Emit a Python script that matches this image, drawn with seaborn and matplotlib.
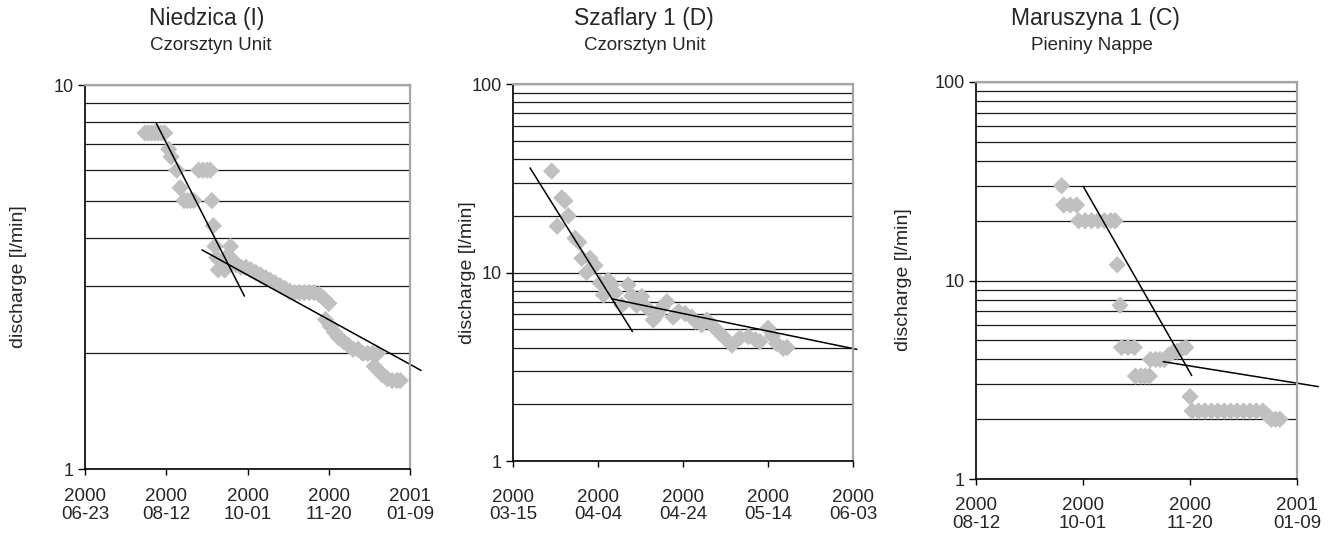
import numpy as np
import pandas as pd
import matplotlib
matplotlib.use("Agg")
import matplotlib.pyplot as plt
import matplotlib.dates as mdates
from matplotlib.ticker import FixedLocator, NullFormatter
import seaborn as sns

sns.set_theme(style="white")
plt.rcParams['font.family'] = ['Liberation Sans', 'DejaVu Sans']

# ---------------- data ----------------
titles = ["Niedzica (I)", "Szaflary 1 (D)", "Maruszyna 1 (C)"]
subtitles = ["Czorsztyn Unit", "Czorsztyn Unit", "Pieniny Nappe"]
ylabel = "discharge [l/min]"

# panel 1: day offset from 2000-06-23
p1_start = "2000-06-23"
p1_ticks = ["2000-06-23", "2000-08-12", "2000-10-01", "2000-11-20", "2001-01-09"]
p1_days = [37, 39, 41, 43, 45, 47, 49, 51.5, 53, 56.5, 58.5, 61, 63, 65, 67,
           70, 72.5, 75, 77, 78, 79, 80, 81, 82, 84, 86, 88, 89.5, 91, 93,
           96, 99, 102, 105, 108, 111, 114, 117, 120, 123, 126, 129, 132, 135,
           138, 141, 144, 147, 150, 148, 151, 153.5, 156, 159, 162, 165, 168,
           171, 174, 177, 180, 178, 181, 183, 186, 189, 192, 194]
p1_vals = [7.5, 7.5, 7.5, 7.5, 7.5, 7.5, 7.5, 6.8, 6.5, 6.0, 5.4, 5.0, 5.0, 5.0, 5.0,
           6.0, 6.0, 6.0, 6.0, 5.0, 4.3, 3.8, 3.55, 3.3, 3.45, 3.3, 3.6, 3.8, 3.5, 3.4,
           3.35, 3.35, 3.3, 3.25, 3.2, 3.15, 3.1, 3.05, 3.0, 2.95, 2.9, 2.88, 2.88, 2.88,
           2.88, 2.88, 2.85, 2.78, 2.7, 2.45, 2.35, 2.27, 2.2, 2.15, 2.1, 2.05, 2.05,
           2.0, 2.0, 2.0, 2.0, 1.85, 1.8, 1.76, 1.72, 1.7, 1.7, 1.7]
p1_trend1_days = [43.8, 98.1]
p1_trend1_vals = [7.96, 2.82]
p1_trend2_days = [72, 206.8]
p1_trend2_vals = [3.72, 1.806]

# panel 2: day offset from 2000-03-15
p2_start = "2000-03-15"
p2_ticks = ["2000-03-15", "2000-04-04", "2000-04-24", "2000-05-14", "2000-06-03"]
p2_days = [9.1, 10.4, 11.5, 12.2, 13, 14.6, 15.5, 16.2, 17.3, 18.1, 19.3, 20.5, 21.3,
           22.4, 23.2, 24, 25.6, 27.1, 28, 29.1, 30.3, 31.5, 33, 34, 35, 36.2, 37.7,
           39, 40.5, 42, 43, 44.4, 45.6, 47, 48.5, 49.5, 51.5, 53.4, 55.4, 57, 58.1,
           60, 61, 62, 63.6, 64.5]
p2_vals = [34.5, 17.6, 24.9, 24.0, 20.0, 15.2, 14.5, 11.9, 10.0, 11.9, 10.9, 8.8, 7.6,
           9.1, 8.6, 7.8, 6.7, 8.6, 7.5, 6.7, 7.45, 6.5, 5.6, 6.0, 6.5, 7.0, 5.8,
           6.2, 6.06, 5.8, 5.5, 5.27, 5.6, 5.2, 4.8, 4.57, 4.12, 4.5, 4.57, 4.4, 4.3,
           5.06, 4.6, 4.2, 3.96, 4.0]
p2_trend1_days = [4.0, 28.1]
p2_trend1_vals = [35.9, 4.86]
p2_trend2_days = [23.2, 80.9]
p2_trend2_vals = [7.25, 3.91]

# panel 3: day offset from 2000-08-12
p3_start = "2000-08-12"
p3_ticks = ["2000-08-12", "2000-10-01", "2000-11-20", "2001-01-09"]
p3_days = [40, 41, 44, 47, 48, 51, 54, 57, 60, 63, 65, 66, 67.3, 68, 71, 74,
           74.5, 77, 79, 81, 81.5, 84, 86, 88, 90, 92, 94, 96, 98, 100,
           101, 104, 107, 110, 113, 116, 119, 122, 125, 128, 131, 134, 136,
           138, 140, 142]
p3_vals = [30, 24, 24, 24, 20, 20, 20, 20, 20, 20, 20, 12, 7.5, 4.6, 4.6, 4.6,
           3.3, 3.3, 3.3, 3.3, 4.0, 4.0, 4.0, 4.0, 4.2, 4.35, 4.4, 4.5, 4.6, 2.6,
           2.2, 2.2, 2.2, 2.2, 2.2, 2.2, 2.2, 2.2, 2.2, 2.2, 2.2, 2.2, 2.1,
           2.0, 2.0, 2.0]
p3_trend1_days = [50.1, 100.8]
p3_trend1_vals = [29.8, 3.32]
p3_trend2_days = [87.5, 160]
p3_trend2_vals = [3.9, 2.92]

# ---------------- figure ----------------
W, H = 1341, 537
fig = plt.figure(figsize=(W / 100, H / 100), dpi=100)

def px_axes(left, top, right, bottom):
    return fig.add_axes([left / W, 1 - bottom / H, (right - left) / W, (bottom - top) / H])

panels = [
    dict(box=(85, 85, 410, 469), start=p1_start, ticks=p1_ticks, days=p1_days, vals=p1_vals,
         t1=(p1_trend1_days, p1_trend1_vals), t2=(p1_trend2_days, p1_trend2_vals),
         ylim=(1, 10), yt=[1, 10], xpad=10, title_x=207, sub_x=211, ylab_x=19, ylab_y=277),
    dict(box=(513, 84, 853, 461), start=p2_start, ticks=p2_ticks, days=p2_days, vals=p2_vals,
         t1=(p2_trend1_days, p2_trend1_vals), t2=(p2_trend2_days, p2_trend2_vals),
         ylim=(1, 100), yt=[1, 10, 100], xpad=16, title_x=644, sub_x=645, ylab_x=468, ylab_y=273),
    dict(box=(976, 82, 1297, 479), start=p3_start, ticks=p3_ticks, days=p3_days, vals=p3_vals,
         t1=(p3_trend1_days, p3_trend1_vals), t2=(p3_trend2_days, p3_trend2_vals),
         ylim=(1, 100), yt=[1, 10, 100], xpad=9, title_x=1095, sub_x=1092, ylab_x=904, ylab_y=280),
]

for i, p in enumerate(panels):
    ax = px_axes(*p["box"])
    start = pd.Timestamp(p["start"])
    df = pd.DataFrame({"date": start + pd.to_timedelta(p["days"], unit="D"),
                       "q": p["vals"]})
    sns.scatterplot(data=df, x="date", y="q", ax=ax, marker="D", s=78,
                    color="#C0C0C0", edgecolor="none", linewidth=0, zorder=3)
    for tr in (p["t1"], p["t2"]):
        dft = pd.DataFrame({"date": start + pd.to_timedelta(tr[0], unit="D"), "q": tr[1]})
        sns.lineplot(data=dft, x="date", y="q", ax=ax, color="black", lw=1.1,
                     zorder=4, clip_on=False, estimator=None, sort=False)
    ax.set_yscale("log")
    ax.set_ylim(*p["ylim"])
    ticks = pd.to_datetime(p["ticks"])
    ax.set_xlim(ticks[0], ticks[-1])
    ax.set_xticks(ticks)
    ax.xaxis.set_major_formatter(mdates.DateFormatter("%Y\n%m-%d"))
    ax.yaxis.set_major_locator(FixedLocator(p["yt"]))
    ax.set_yticklabels([str(v) for v in p["yt"]])
    ax.yaxis.set_minor_formatter(NullFormatter())
    ax.grid(True, which="both", axis="y", color="#1a1a1a", lw=0.9)
    ax.grid(False, axis="x")
    ax.set_axisbelow(True)
    ax.tick_params(axis="y", which="major", direction="out", length=5, width=1,
                   color="black", labelsize=13, pad=3, left=True)
    ax.tick_params(axis="y", which="minor", length=0)
    ax.tick_params(axis="x", which="major", direction="out", length=4, width=1,
                   color="black", labelsize=13.5, pad=p["xpad"], bottom=True)
    for lab in ax.get_xticklabels():
        lab.set_linespacing(1.05)
    ax.set_xlabel("")
    ax.set_ylabel("")
    for s in ("left", "bottom"):
        ax.spines[s].set_color("black")
        ax.spines[s].set_linewidth(1.2)
    for s in ("top", "right"):
        ax.spines[s].set_color("#a6a6a6")
        ax.spines[s].set_linewidth(1.6)
    for s in ax.spines.values():
        s.set_zorder(5)
        s.set_visible(True)
    ax.set_facecolor("white")

    fig.text(p["title_x"] / W, 1 - 25 / H, titles[i], ha="center", va="baseline", fontsize=16.5)
    fig.text(p["sub_x"] / W, 1 - 50 / H, subtitles[i], ha="center", va="baseline", fontsize=13.5)
    fig.text(p["ylab_x"] / W, 1 - p["ylab_y"] / H, ylabel, rotation=90, ha="center",
             va="center", fontsize=14)

fig.savefig("out.png", dpi=100)
